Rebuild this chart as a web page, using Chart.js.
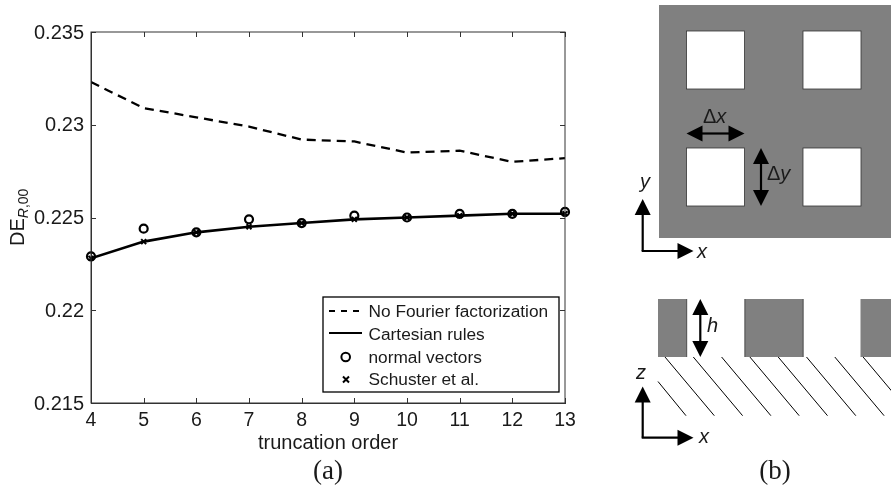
<!DOCTYPE html>
<html>
<head>
<meta charset="utf-8">
<title>Truncation order convergence</title>
<script src="https://cdn.jsdelivr.net/npm/chart.js@4"></script>
<style>
html,body{margin:0;padding:0;background:#fff;}
#wrap{position:relative;width:891px;height:489px;overflow:hidden;}
#chart{position:absolute;left:0;top:0;}
#overlay{position:absolute;left:0;top:0;}
#overlay text{font-family:"Liberation Sans",sans-serif;fill:#1a1a1a;}
#overlay .cap{font-family:"Liberation Serif",serif;font-size:27px;}
#overlay .it{font-style:italic;font-size:20px;}
#overlay .lg{font-size:17.3px;}
</style>
</head>
<body>
<div id="wrap">
<canvas id="chart" width="891" height="489"></canvas>
<svg id="overlay" width="891" height="489" xmlns="http://www.w3.org/2000/svg">
  <defs>
    <clipPath id="rightEdge"><rect x="640" y="340" width="251" height="80"/></clipPath>
  </defs>

  <!-- y axis title with subscript -->
  <text transform="translate(23.5,246) rotate(-90)" font-size="20">DE<tspan font-size="14" dy="4" font-style="italic">R</tspan><tspan font-size="14">,00</tspan></text>

  <!-- legend -->
  <rect x="323" y="297" width="236" height="95" fill="#fff" stroke="#000" stroke-width="1.3"/>
  <line x1="329" y1="311" x2="362" y2="311" stroke="#000" stroke-width="2" stroke-dasharray="6 6"/>
  <line x1="329" y1="333" x2="362" y2="333" stroke="#000" stroke-width="2"/>
  <circle cx="345.7" cy="357" r="4.3" fill="none" stroke="#000" stroke-width="2"/>
  <path d="M343 376.5 L349 382.5 M349 376.5 L343 382.5" stroke="#000" stroke-width="2"/>
  <text class="lg" id="lg0" x="368.5" y="317"></text>
  <text class="lg" id="lg1" x="368.5" y="340"></text>
  <text class="lg" id="lg2" x="368.5" y="363"></text>
  <text class="lg" id="lg3" x="368.5" y="385"></text>

  <text class="cap" x="328" y="479" text-anchor="middle">(a)</text>

  <!-- top view of the grating -->
  <rect x="659" y="5" width="232" height="233" fill="#808080"/>
  <g fill="#fff" stroke="#333" stroke-width="0.8">
    <rect x="686.5" y="31" width="58" height="58"/>
    <rect x="803" y="31" width="58" height="58"/>
    <rect x="686.5" y="148" width="58" height="58"/>
    <rect x="803" y="148" width="58" height="58"/>
  </g>
  <g stroke="#000" stroke-width="2.2" fill="#000">
    <line x1="700" y1="133.5" x2="732" y2="133.5"/>
    <line x1="761" y1="160" x2="761" y2="194"/>
    <line x1="642.7" y1="251" x2="642.7" y2="212"/>
    <line x1="641.7" y1="251" x2="680" y2="251"/>
    <line x1="700.3" y1="312" x2="700.3" y2="344"/>
    <line x1="642.7" y1="437.7" x2="642.7" y2="400"/>
    <line x1="641.7" y1="437.7" x2="680" y2="437.7"/>
  </g>
  <g fill="#000">
    <path d="M686.5 133.5 L702.5 125.5 L702.5 141.5 Z"/>
    <path d="M744.5 133.5 L728.5 125.5 L728.5 141.5 Z"/>
    <path d="M761 148 L753 164 L769 164 Z"/>
    <path d="M761 206 L753 190 L769 190 Z"/>
    <path d="M642.7 199 L634.7 215 L650.7 215 Z"/>
    <path d="M693.5 251 L677.5 243 L677.5 259 Z"/>
    <path d="M700.3 299 L692.3 315 L708.3 315 Z"/>
    <path d="M700.3 357 L692.3 341 L708.3 341 Z"/>
    <path d="M642.7 386.5 L634.7 402.5 L650.7 402.5 Z"/>
    <path d="M693.5 437.7 L677.5 429.7 L677.5 445.7 Z"/>
  </g>
  <text x="703" y="123" font-size="20">Δ<tspan font-style="italic">x</tspan></text>
  <text x="767" y="180" font-size="20">Δ<tspan font-style="italic">y</tspan></text>
  <text class="it" x="640" y="188">y</text>
  <text class="it" x="697" y="258">x</text>

  <!-- side view of the grating -->
  <g fill="#808080">
    <rect x="658" y="299" width="29" height="58"/>
    <rect x="744.5" y="299" width="59" height="58"/>
    <rect x="860.5" y="299" width="31" height="58"/>
  </g>
  <g stroke="#555" stroke-width="1">
    <line x1="686.7" y1="299" x2="686.7" y2="357"/>
    <line x1="745" y1="299" x2="745" y2="357"/>
    <line x1="803" y1="299" x2="803" y2="357"/>
  </g>
  <g stroke="#000" stroke-width="1" clip-path="url(#rightEdge)">
    <line x1="658" y1="381.5" x2="686" y2="415.7"/>
    <line x1="665" y1="357" x2="714.3" y2="415.7"/>
    <line x1="693.3" y1="357" x2="742.6" y2="415.7"/>
    <line x1="721.6" y1="357" x2="770.9" y2="415.7"/>
    <line x1="749.9" y1="357" x2="799.2" y2="415.7"/>
    <line x1="778.2" y1="357" x2="827.5" y2="415.7"/>
    <line x1="806.5" y1="357" x2="855.8" y2="415.7"/>
    <line x1="834.8" y1="357" x2="884.1" y2="415.7"/>
    <line x1="863.1" y1="357" x2="912.4" y2="415.7"/>
  </g>
  <text class="it" x="707" y="332">h</text>
  <text class="it" x="636" y="379">z</text>
  <text class="it" x="699" y="443">x</text>

  <text class="cap" x="775" y="479" text-anchor="middle">(b)</text>
</svg>
</div>

<script>
// chart data
const orders = [4, 5, 6, 7, 8, 9, 10, 11, 12, 13];
const noFactorization = [0.2323, 0.2309, 0.2304, 0.2299, 0.2292, 0.2291, 0.2285, 0.2286, 0.2280, 0.2282];
const cartesianRules = [0.2228, 0.2237, 0.2242, 0.2245, 0.2247, 0.2249, 0.2250, 0.2251, 0.2252, 0.2252];
const normalVectors = [0.2229, 0.2244, 0.2242, 0.2249, 0.2247, 0.2251, 0.2250, 0.2252, 0.2252, 0.2253];
const schuster = [0.2228, 0.2237, 0.2242, 0.2245, 0.2247, 0.2249, 0.2250, 0.2251, 0.2252, 0.2252];
const seriesNames = ["No Fourier factorization", "Cartesian rules", "normal vectors", "Schuster et al."];
const yTickLabels = ["0.215", "0.22", "0.225", "0.23", "0.235"];

seriesNames.forEach((name, i) => {
    document.getElementById("lg" + i).textContent = name;
});

function toPoints(values) {
    return values.map((v, i) => ({ x: orders[i], y: v }));
}

// matlab style ticks: pointing inward, on all four sides
const inwardTicks = {
    id: "inwardTicks",
    afterDatasetsDraw(chart) {
        const { ctx, chartArea: a, scales } = chart;
        const len = 5;
        ctx.save();
        ctx.strokeStyle = "#333";
        ctx.lineWidth = 1;
        ctx.beginPath();
        scales.x.ticks.forEach((t) => {
            const px = Math.round(scales.x.getPixelForValue(t.value)) + 0.5;
            ctx.moveTo(px, a.bottom);
            ctx.lineTo(px, a.bottom - len);
            ctx.moveTo(px, a.top);
            ctx.lineTo(px, a.top + len);
        });
        scales.y.ticks.forEach((t) => {
            const py = Math.round(scales.y.getPixelForValue(t.value)) + 0.5;
            ctx.moveTo(a.left, py);
            ctx.lineTo(a.left + len, py);
            ctx.moveTo(a.right, py);
            ctx.lineTo(a.right - len, py);
        });
        ctx.stroke();
        ctx.strokeRect(a.left, a.top, a.right - a.left, a.bottom - a.top);
        ctx.restore();
    }
};

Chart.defaults.font.family = '"Liberation Sans", sans-serif';
Chart.defaults.color = "#1a1a1a";

new Chart(document.getElementById("chart"), {
    type: "line",
    data: {
        datasets: [
            {
                label: seriesNames[0],
                data: toPoints(noFactorization),
                borderColor: "#000",
                borderWidth: 2.3,
                borderDash: [9, 6],
                pointRadius: 0,
                tension: 0
            },
            {
                label: seriesNames[1],
                data: toPoints(cartesianRules),
                borderColor: "#000",
                borderWidth: 2.6,
                pointRadius: 0,
                tension: 0
            },
            {
                label: seriesNames[2],
                data: toPoints(normalVectors),
                showLine: false,
                pointStyle: "circle",
                pointRadius: 4,
                pointBorderWidth: 2.2,
                pointBorderColor: "#000",
                pointBackgroundColor: "rgba(0,0,0,0)",
                clip: false
            },
            {
                label: seriesNames[3],
                data: toPoints(schuster),
                showLine: false,
                pointStyle: "crossRot",
                pointRadius: 3.5,
                pointBorderWidth: 2,
                pointBorderColor: "#000",
                clip: false
            }
        ]
    },
    options: {
        responsive: false,
        animation: false,
        layout: { padding: { top: 32, right: 326, left: 0, bottom: 34 } },
        plugins: {
            legend: { display: false },
            tooltip: { enabled: false }
        },
        scales: {
            x: {
                type: "linear",
                min: 4,
                max: 13,
                grid: { display: false, drawTicks: false },
                border: { color: "#333" },
                ticks: { stepSize: 1, font: { size: 19.5 }, padding: 6, maxRotation: 0 },
                title: { display: true, text: "truncation order", font: { size: 20 }, padding: { top: 0, bottom: 0 } },
                afterFit(scale) { scale.height = 52; }
            },
            y: {
                min: 0.215,
                max: 0.235,
                grid: { display: false, drawTicks: false },
                border: { color: "#333" },
                ticks: {
                    stepSize: 0.005,
                    font: { size: 20 },
                    padding: 7,
                    labelOffset: 1,
                    callback: (value, index) => yTickLabels[index]
                },
                afterFit(scale) { scale.width = 91; }
            }
        }
    },
    plugins: [inwardTicks]
});
</script>
</body>
</html>
